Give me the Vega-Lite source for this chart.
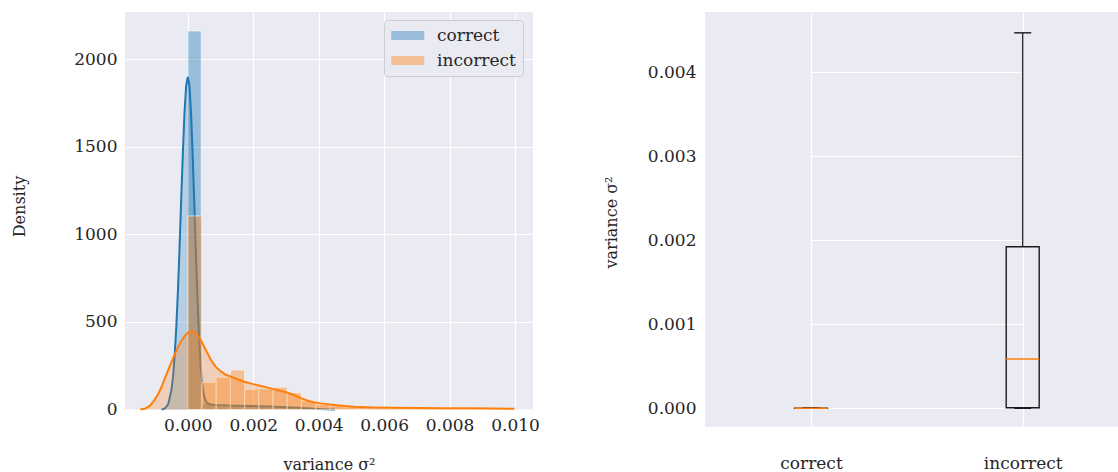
{
  "$schema": "https://vega.github.io/schema/vega-lite/v6.json",
  "background": "white",
  "padding": {"left": 11, "top": 12, "right": 0, "bottom": 0},
  "config": {
    "font": "DejaVu Serif",
    "view": {"fill": "#eaeaf2", "stroke": null},
    "axis": {
      "domain": false, "ticks": false, "grid": true, "gridColor": "#ffffff", "gridWidth": 1.2,
      "labelFont": "DejaVu Serif", "labelFontSize": 17, "labelColor": "#262626",
      "titleFont": "DejaVu Serif", "titleFontSize": 16, "titleFontWeight": "normal", "titleColor": "#262626"
    },
    "legend": {
      "orient": "none", "legendX": 259, "legendY": 8, "padding": 7,
      "fillColor": "#eaeaf2", "strokeColor": "#cdcdd4", "cornerRadius": 3,
      "labelFont": "DejaVu Serif", "labelFontSize": 17, "labelColor": "#262626",
      "symbolType": "M-1,-0.545H3V0.545H-1Z", "symbolSize": 272, "symbolOpacity": 0.4,
      "symbolStrokeWidth": 0, "labelOffset": 29, "rowPadding": 7
    }
  },
  "datasets": {
    "hist": [
      {"series": "correct", "variance": 0, "variance_end": 0.00041, "density": 2163},
      {"series": "correct", "variance": 0.00041, "variance_end": 0.00082, "density": 33},
      {"series": "correct", "variance": 0.00082, "variance_end": 0.00123, "density": 28},
      {"series": "correct", "variance": 0.00123, "variance_end": 0.00164, "density": 25},
      {"series": "correct", "variance": 0.00164, "variance_end": 0.00205, "density": 22},
      {"series": "correct", "variance": 0.00205, "variance_end": 0.00246, "density": 20},
      {"series": "correct", "variance": 0.00246, "variance_end": 0.00287, "density": 16},
      {"series": "correct", "variance": 0.00287, "variance_end": 0.00328, "density": 12},
      {"series": "correct", "variance": 0.00328, "variance_end": 0.00369, "density": 8},
      {"series": "correct", "variance": 0.00369, "variance_end": 0.0041, "density": 4},
      {"series": "incorrect", "variance": 0, "variance_end": 0.000434, "density": 1106},
      {"series": "incorrect", "variance": 0.000434, "variance_end": 0.000868, "density": 155},
      {"series": "incorrect", "variance": 0.000868, "variance_end": 0.001302, "density": 184},
      {"series": "incorrect", "variance": 0.001302, "variance_end": 0.001736, "density": 226},
      {"series": "incorrect", "variance": 0.001736, "variance_end": 0.00217, "density": 115},
      {"series": "incorrect", "variance": 0.00217, "variance_end": 0.002604, "density": 118},
      {"series": "incorrect", "variance": 0.002604, "variance_end": 0.003038, "density": 128},
      {"series": "incorrect", "variance": 0.003038, "variance_end": 0.003472, "density": 97},
      {"series": "incorrect", "variance": 0.003472, "variance_end": 0.003906, "density": 50},
      {"series": "incorrect", "variance": 0.003906, "variance_end": 0.00434, "density": 28},
      {"series": "incorrect", "variance": 0.00434, "variance_end": 0.004774, "density": 20},
      {"series": "incorrect", "variance": 0.004774, "variance_end": 0.005208, "density": 15},
      {"series": "incorrect", "variance": 0.005208, "variance_end": 0.005642, "density": 11},
      {"series": "incorrect", "variance": 0.005642, "variance_end": 0.006076, "density": 9},
      {"series": "incorrect", "variance": 0.006076, "variance_end": 0.00651, "density": 8},
      {"series": "incorrect", "variance": 0.00651, "variance_end": 0.006944, "density": 8},
      {"series": "incorrect", "variance": 0.006944, "variance_end": 0.007378, "density": 7},
      {"series": "incorrect", "variance": 0.007378, "variance_end": 0.007812, "density": 7},
      {"series": "incorrect", "variance": 0.007812, "variance_end": 0.008246, "density": 6},
      {"series": "incorrect", "variance": 0.008246, "variance_end": 0.00868, "density": 6},
      {"series": "incorrect", "variance": 0.00868, "variance_end": 0.009114, "density": 5},
      {"series": "incorrect", "variance": 0.009114, "variance_end": 0.009548, "density": 4},
      {"series": "incorrect", "variance": 0.009548, "variance_end": 0.009982, "density": 4}
    ],
    "kde": [
      {"series": "correct", "variance": -0.0008, "density": 0},
      {"series": "correct", "variance": -0.0007, "density": 6},
      {"series": "correct", "variance": -0.0006, "density": 30},
      {"series": "correct", "variance": -0.0005, "density": 110},
      {"series": "correct", "variance": -0.00045, "density": 190},
      {"series": "correct", "variance": -0.0004, "density": 310},
      {"series": "correct", "variance": -0.00035, "density": 475},
      {"series": "correct", "variance": -0.0003, "density": 685},
      {"series": "correct", "variance": -0.00025, "density": 935},
      {"series": "correct", "variance": -0.0002, "density": 1210},
      {"series": "correct", "variance": -0.00015, "density": 1470},
      {"series": "correct", "variance": -0.0001, "density": 1700},
      {"series": "correct", "variance": -0.00005, "density": 1850},
      {"series": "correct", "variance": 0, "density": 1900},
      {"series": "correct", "variance": 0.00005, "density": 1850},
      {"series": "correct", "variance": 0.0001, "density": 1690},
      {"series": "correct", "variance": 0.00015, "density": 1450},
      {"series": "correct", "variance": 0.0002, "density": 1170},
      {"series": "correct", "variance": 0.00025, "density": 880},
      {"series": "correct", "variance": 0.0003, "density": 620},
      {"series": "correct", "variance": 0.00035, "density": 390},
      {"series": "correct", "variance": 0.0004, "density": 230},
      {"series": "correct", "variance": 0.00045, "density": 130},
      {"series": "correct", "variance": 0.0005, "density": 75},
      {"series": "correct", "variance": 0.00055, "density": 48},
      {"series": "correct", "variance": 0.0006, "density": 36},
      {"series": "correct", "variance": 0.0007, "density": 29},
      {"series": "correct", "variance": 0.0008, "density": 27},
      {"series": "correct", "variance": 0.001, "density": 25},
      {"series": "correct", "variance": 0.0015, "density": 22},
      {"series": "correct", "variance": 0.002, "density": 20},
      {"series": "correct", "variance": 0.0025, "density": 17},
      {"series": "correct", "variance": 0.003, "density": 13},
      {"series": "correct", "variance": 0.0035, "density": 8},
      {"series": "correct", "variance": 0.004, "density": 3},
      {"series": "correct", "variance": 0.0045, "density": 0},
      {"series": "incorrect", "variance": -0.00145, "density": 0},
      {"series": "incorrect", "variance": -0.0013, "density": 6},
      {"series": "incorrect", "variance": -0.00115, "density": 22},
      {"series": "incorrect", "variance": -0.00102, "density": 54},
      {"series": "incorrect", "variance": -0.0009, "density": 90},
      {"series": "incorrect", "variance": -0.0008, "density": 130},
      {"series": "incorrect", "variance": -0.00072, "density": 169},
      {"series": "incorrect", "variance": -0.0006, "density": 225},
      {"series": "incorrect", "variance": -0.0005, "density": 270},
      {"series": "incorrect", "variance": -0.00041, "density": 311},
      {"series": "incorrect", "variance": -0.0003, "density": 355},
      {"series": "incorrect", "variance": -0.0002, "density": 390},
      {"series": "incorrect", "variance": -0.00011, "density": 416},
      {"series": "incorrect", "variance": 0, "density": 440},
      {"series": "incorrect", "variance": 0.00013, "density": 449},
      {"series": "incorrect", "variance": 0.00025, "density": 435},
      {"series": "incorrect", "variance": 0.0004, "density": 397},
      {"series": "incorrect", "variance": 0.00055, "density": 340},
      {"series": "incorrect", "variance": 0.00071, "density": 283},
      {"series": "incorrect", "variance": 0.00085, "density": 245},
      {"series": "incorrect", "variance": 0.00102, "density": 216},
      {"series": "incorrect", "variance": 0.00115, "density": 200},
      {"series": "incorrect", "variance": 0.00132, "density": 187},
      {"series": "incorrect", "variance": 0.0015, "density": 174},
      {"series": "incorrect", "variance": 0.00173, "density": 159},
      {"series": "incorrect", "variance": 0.002, "density": 145},
      {"series": "incorrect", "variance": 0.00224, "density": 134},
      {"series": "incorrect", "variance": 0.00245, "density": 125},
      {"series": "incorrect", "variance": 0.00265, "density": 115},
      {"series": "incorrect", "variance": 0.00285, "density": 106},
      {"series": "incorrect", "variance": 0.00306, "density": 96},
      {"series": "incorrect", "variance": 0.0032, "density": 86},
      {"series": "incorrect", "variance": 0.00336, "density": 73},
      {"series": "incorrect", "variance": 0.0035, "density": 62},
      {"series": "incorrect", "variance": 0.00367, "density": 50},
      {"series": "incorrect", "variance": 0.00385, "density": 42},
      {"series": "incorrect", "variance": 0.00407, "density": 35},
      {"series": "incorrect", "variance": 0.00448, "density": 26},
      {"series": "incorrect", "variance": 0.0048, "density": 20},
      {"series": "incorrect", "variance": 0.00509, "density": 16},
      {"series": "incorrect", "variance": 0.0057, "density": 12},
      {"series": "incorrect", "variance": 0.0063, "density": 10},
      {"series": "incorrect", "variance": 0.007, "density": 8},
      {"series": "incorrect", "variance": 0.0078, "density": 7},
      {"series": "incorrect", "variance": 0.0086, "density": 7},
      {"series": "incorrect", "variance": 0.0093, "density": 6},
      {"series": "incorrect", "variance": 0.00998, "density": 4}
    ],
    "box": [
      {"group": "correct", "lower": 0, "q1": 0, "median": 0.000001, "q3": 0.0000025, "upper": 0.000006},
      {"group": "incorrect", "lower": 0, "q1": 0.000007, "median": 0.000587, "q3": 0.001924, "upper": 0.00447}
    ]
  },
  "bounds": "flush",
  "spacing": 172,
  "hconcat": [
    {
      "width": 408,
      "height": 397.5,
      "encoding": {
        "x": {
          "field": "variance", "type": "quantitative",
          "scale": {"domain": [-0.001919, 0.01055], "nice": false, "zero": false},
          "axis": {
            "values": [0, 0.002, 0.004, 0.006, 0.008, 0.01], "format": ".3f",
            "labelPadding": 21, "labelBaseline": "alphabetic",
            "title": "variance σ²", "titleX": 204, "titleY": 60, "titleAlign": "center", "titleBaseline": "alphabetic"
          }
        },
        "y": {
          "field": "density", "type": "quantitative",
          "scale": {"domain": [0, 2271.4], "nice": false, "zero": true},
          "axis": {
            "values": [0, 500, 1000, 1500, 2000], "format": "d", "labelPadding": 8,
            "title": "Density", "titleX": -105.7, "titleY": 194, "titleAngle": -90, "titleAlign": "center", "titleBaseline": "middle"
          }
        }
      },
      "layer": [
        {
          "data": {"name": "hist"},
          "transform": [{"filter": "datum.series === 'correct'"}],
          "mark": {"type": "bar", "fillOpacity": 0.4, "stroke": "#ffffff", "strokeOpacity": 0.6, "strokeWidth": 1},
          "encoding": {
            "x2": {"field": "variance_end"},
            "y2": {"datum": 0},
            "color": {"field": "series", "type": "nominal",
              "scale": {"domain": ["correct", "incorrect"], "range": ["#1f77b4", "#ff7f0e"]},
              "legend": {"title": null}}
          }
        },
        {
          "data": {"name": "kde"},
          "transform": [{"filter": "datum.series === 'correct'"}],
          "mark": {"type": "area", "color": "#1f77b4", "opacity": 0.25},
          "encoding": {}
        },
        {
          "data": {"name": "kde"},
          "transform": [{"filter": "datum.series === 'correct'"}],
          "mark": {"type": "line", "color": "#1f77b4", "strokeWidth": 2},
          "encoding": {}
        },
        {
          "data": {"name": "hist"},
          "transform": [{"filter": "datum.series === 'incorrect'"}],
          "mark": {"type": "bar", "fillOpacity": 0.4, "stroke": "#ffffff", "strokeOpacity": 0.6, "strokeWidth": 1},
          "encoding": {
            "x2": {"field": "variance_end"},
            "y2": {"datum": 0},
            "color": {"field": "series", "type": "nominal",
              "scale": {"domain": ["correct", "incorrect"], "range": ["#1f77b4", "#ff7f0e"]},
              "legend": {"title": null}}
          }
        },
        {
          "data": {"name": "kde"},
          "transform": [{"filter": "datum.series === 'incorrect'"}],
          "mark": {"type": "area", "color": "#ff7f0e", "opacity": 0.25},
          "encoding": {}
        },
        {
          "data": {"name": "kde"},
          "transform": [{"filter": "datum.series === 'incorrect'"}],
          "mark": {"type": "line", "color": "#ff7f0e", "strokeWidth": 2},
          "encoding": {}
        }
      ]
    },
    {
      "width": 414,
      "height": 414.7,
      "data": {"name": "box"},
      "encoding": {
        "x": {
          "field": "group", "type": "nominal", "sort": ["correct", "incorrect"],
          "scale": {"type": "point", "range": [106, 317.7], "padding": 0},
          "axis": {"grid": true, "labelAngle": 0, "labelPadding": 41.3, "labelBaseline": "alphabetic", "title": null}
        }
      },
      "layer": [
        {
          "mark": {"type": "rule", "color": "#2b2b2b", "strokeWidth": 1.4},
          "encoding": {
            "y": {"field": "lower", "type": "quantitative",
              "scale": {"domain": [-0.000219, 0.004718], "nice": false, "zero": false},
              "axis": {"values": [0, 0.001, 0.002, 0.003, 0.004], "format": ".3f", "labelPadding": 9,
                "title": "variance σ²", "titleX": -94, "titleY": 210, "titleAngle": -90, "titleAlign": "center", "titleBaseline": "middle"}},
            "y2": {"field": "q1"}
          }
        },
        {
          "mark": {"type": "rule", "color": "#2b2b2b", "strokeWidth": 1.4},
          "encoding": {
            "y": {"field": "q3", "type": "quantitative",
              "scale": {"domain": [-0.000219, 0.004718], "nice": false, "zero": false},
              "axis": {"values": [0, 0.001, 0.002, 0.003, 0.004], "format": ".3f", "labelPadding": 9,
                "title": "variance σ²", "titleX": -94, "titleY": 210, "titleAngle": -90, "titleAlign": "center", "titleBaseline": "middle"}},
            "y2": {"field": "upper"}
          }
        },
        {
          "mark": {"type": "bar", "size": 33, "fill": "#eaeaf2", "fillOpacity": 0, "stroke": "#1a1a1a", "strokeWidth": 1.4},
          "encoding": {
            "y": {"field": "q1", "type": "quantitative",
              "scale": {"domain": [-0.000219, 0.004718], "nice": false, "zero": false},
              "axis": {"values": [0, 0.001, 0.002, 0.003, 0.004], "format": ".3f", "labelPadding": 9,
                "title": "variance σ²", "titleX": -94, "titleY": 210, "titleAngle": -90, "titleAlign": "center", "titleBaseline": "middle"}},
            "y2": {"field": "q3"}
          }
        },
        {
          "mark": {"type": "tick", "orient": "horizontal", "size": 17, "thickness": 1.4, "color": "#1a1a1a", "opacity": 1},
          "encoding": {
            "y": {"field": "lower", "type": "quantitative",
              "scale": {"domain": [-0.000219, 0.004718], "nice": false, "zero": false},
              "axis": {"values": [0, 0.001, 0.002, 0.003, 0.004], "format": ".3f", "labelPadding": 9,
                "title": "variance σ²", "titleX": -94, "titleY": 210, "titleAngle": -90, "titleAlign": "center", "titleBaseline": "middle"}}
          }
        },
        {
          "mark": {"type": "tick", "orient": "horizontal", "size": 17, "thickness": 1.4, "color": "#1a1a1a", "opacity": 1},
          "encoding": {
            "y": {"field": "upper", "type": "quantitative",
              "scale": {"domain": [-0.000219, 0.004718], "nice": false, "zero": false},
              "axis": {"values": [0, 0.001, 0.002, 0.003, 0.004], "format": ".3f", "labelPadding": 9,
                "title": "variance σ²", "titleX": -94, "titleY": 210, "titleAngle": -90, "titleAlign": "center", "titleBaseline": "middle"}}
          }
        },
        {
          "mark": {"type": "tick", "orient": "horizontal", "size": 33, "thickness": 1.5, "color": "#ff7f0e", "opacity": 1},
          "encoding": {
            "y": {"field": "median", "type": "quantitative",
              "scale": {"domain": [-0.000219, 0.004718], "nice": false, "zero": false},
              "axis": {"values": [0, 0.001, 0.002, 0.003, 0.004], "format": ".3f", "labelPadding": 9,
                "title": "variance σ²", "titleX": -94, "titleY": 210, "titleAngle": -90, "titleAlign": "center", "titleBaseline": "middle"}}
          }
        }
      ]
    }
  ]
}
